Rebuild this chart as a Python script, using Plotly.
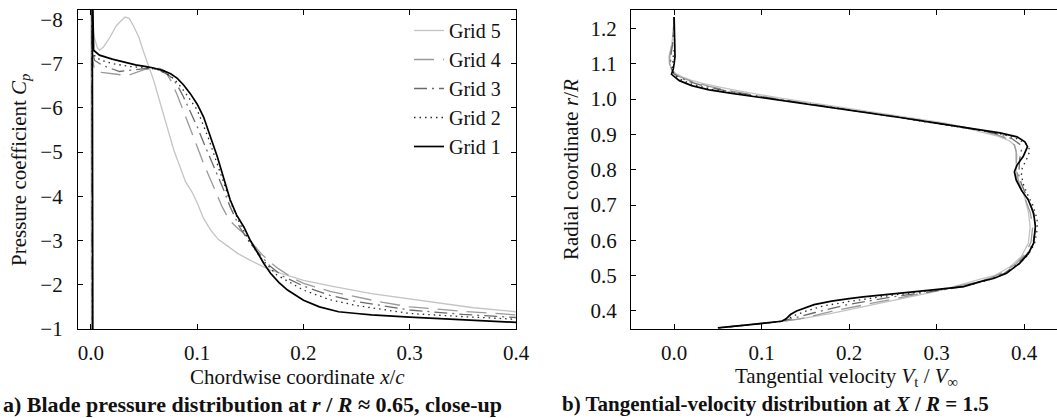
import plotly.graph_objects as go

# ---------------- data ----------------
grid_names = ["Grid 5", "Grid 4", "Grid 3", "Grid 2", "Grid 1"]

# Panel a: (x/c, Cp) pairs
cp_grid5 = [(0.0005, 0.5), (0.0, -9.0), (0.0005, -8.15), (0.001, -7.95), (0.003, -7.6), (0.006, -7.36),
            (0.008, -7.3), (0.012, -7.38), (0.018, -7.6), (0.024, -7.86), (0.032, -8.05), (0.036, -8.02),
            (0.040, -7.85), (0.045, -7.6), (0.049, -7.3), (0.059, -6.62), (0.068, -5.88), (0.078, -5.04),
            (0.089, -4.33), (0.095, -4.1), (0.1, -3.85), (0.106, -3.5), (0.1125, -3.24), (0.12, -3.02),
            (0.13, -2.85), (0.138, -2.71), (0.15, -2.55), (0.169, -2.33), (0.2, -2.1), (0.23, -1.95),
            (0.264, -1.8), (0.3, -1.68), (0.327, -1.58), (0.36, -1.48), (0.4, -1.39)]
cp_grid4 = [(0.0008, 0.5), (0.0005, -9.0), (0.0015, -7.1), (0.0035, -6.85), (0.01, -6.8), (0.021, -6.77),
            (0.03, -6.74), (0.037, -6.75), (0.043, -6.8), (0.05, -6.86), (0.056, -6.89), (0.065, -6.89),
            (0.07, -6.82), (0.075, -6.62), (0.081, -6.3), (0.087, -5.94), (0.094, -5.5), (0.1, -5.12),
            (0.106, -4.74), (0.1125, -4.36), (0.118, -4.05), (0.1235, -3.76), (0.13, -3.47), (0.137, -3.3),
            (0.144, -3.16), (0.152, -2.93), (0.16, -2.71), (0.168, -2.52), (0.176, -2.37), (0.19, -2.15),
            (0.2, -2.03), (0.225, -1.85), (0.25, -1.72), (0.275, -1.6), (0.3, -1.5), (0.35, -1.4), (0.4, -1.32)]
cp_grid3 = [(0.0012, 0.5), (0.0008, -9.0), (0.002, -7.2), (0.0035, -7.07), (0.008, -7.0), (0.015, -6.92),
            (0.027, -6.82), (0.04, -6.85), (0.052, -6.89), (0.062, -6.87), (0.07, -6.78), (0.075, -6.7),
            (0.081, -6.52), (0.087, -6.25), (0.094, -5.9), (0.1, -5.57), (0.108, -5.1), (0.116, -4.66),
            (0.124, -4.2), (0.131, -3.76), (0.14, -3.3), (0.15, -2.93), (0.16, -2.65), (0.169, -2.41),
            (0.18, -2.2), (0.2, -1.97), (0.225, -1.76), (0.25, -1.62), (0.3, -1.43), (0.35, -1.33), (0.4, -1.26)]
cp_grid2 = [(0.0015, 0.5), (0.001, -9.0), (0.0025, -7.25), (0.004, -7.15), (0.01, -7.07), (0.02, -7.0),
            (0.037, -6.93), (0.055, -6.9), (0.065, -6.85), (0.075, -6.72), (0.082, -6.55), (0.09, -6.3),
            (0.1, -5.95), (0.11, -5.35), (0.12, -4.65), (0.13, -3.95), (0.14, -3.38), (0.15, -2.95),
            (0.16, -2.6), (0.175, -2.22), (0.2, -1.88), (0.225, -1.66), (0.25, -1.53), (0.3, -1.35),
            (0.35, -1.28), (0.4, -1.22)]
cp_grid1 = [(0.0018, 0.5), (0.0012, -9.0), (0.0025, -7.3), (0.004, -7.27), (0.008, -7.19), (0.02, -7.1),
            (0.03, -7.04), (0.042, -6.97), (0.052, -6.93), (0.059, -6.9), (0.068, -6.84), (0.075, -6.77),
            (0.081, -6.67), (0.087, -6.52), (0.0935, -6.32), (0.1, -6.08), (0.106, -5.79), (0.112, -5.38),
            (0.119, -4.89), (0.125, -4.4), (0.131, -3.92), (0.137, -3.58), (0.144, -3.3), (0.15, -3.0),
            (0.157, -2.71), (0.163, -2.47), (0.169, -2.26), (0.177, -2.05), (0.185, -1.88), (0.2, -1.65),
            (0.215, -1.5), (0.233, -1.39), (0.25, -1.35), (0.264, -1.32), (0.3, -1.27), (0.327, -1.24),
            (0.36, -1.2), (0.4, -1.15)]

# Panel b: (Vt/Vinf, r/R) pairs
vt_grid5 = [(0.0, 1.232), (-0.001, 1.19), (-0.003, 1.15), (-0.006, 1.12), (-0.0055, 1.10), (-0.003, 1.085),
            (0.002, 1.072), (0.01, 1.062), (0.02, 1.053), (0.035, 1.043), (0.055, 1.032), (0.08, 1.02),
            (0.12, 1.003), (0.16, 0.988), (0.2, 0.974), (0.24, 0.96), (0.28, 0.945), (0.31, 0.932),
            (0.335, 0.918), (0.35, 0.907), (0.37, 0.895), (0.383, 0.882), (0.389, 0.87), (0.391, 0.855),
            (0.392, 0.837), (0.391, 0.815), (0.391, 0.794), (0.392, 0.772), (0.396, 0.752), (0.401, 0.72),
            (0.405, 0.68), (0.407, 0.639), (0.405, 0.592), (0.397, 0.554), (0.384, 0.525), (0.367, 0.501),
            (0.35, 0.49), (0.331, 0.476), (0.31, 0.462), (0.293, 0.452), (0.26, 0.435), (0.216, 0.411),
            (0.18, 0.393), (0.143, 0.377), (0.123, 0.371), (0.11, 0.367), (0.09, 0.362), (0.07, 0.357),
            (0.05, 0.352)]
vt_grid4 = [(0.0, 1.232), (-0.001, 1.19), (-0.003, 1.15), (-0.005, 1.12), (-0.005, 1.1), (-0.003, 1.085),
            (0.001, 1.071), (0.008, 1.061), (0.02, 1.05), (0.04, 1.036), (0.066, 1.022), (0.1, 1.007),
            (0.14, 0.992), (0.18, 0.977), (0.22, 0.963), (0.26, 0.948), (0.296, 0.935), (0.33, 0.921),
            (0.35, 0.911), (0.368, 0.9), (0.382, 0.886), (0.389, 0.87), (0.391, 0.85), (0.391, 0.825),
            (0.392, 0.8), (0.393, 0.775), (0.396, 0.75), (0.401, 0.72), (0.407, 0.68), (0.41, 0.64),
            (0.408, 0.595), (0.401, 0.56), (0.39, 0.532), (0.375, 0.508), (0.36, 0.492), (0.34, 0.478),
            (0.3, 0.458), (0.25, 0.433), (0.2, 0.41), (0.18, 0.399), (0.16, 0.387), (0.14, 0.376),
            (0.123, 0.37), (0.11, 0.367), (0.09, 0.362), (0.07, 0.357), (0.05, 0.352)]
vt_grid3 = [(0.0, 1.232), (-0.0005, 1.19), (-0.002, 1.15), (-0.004, 1.12), (-0.004, 1.1), (-0.003, 1.085),
            (0.0, 1.071), (0.007, 1.06), (0.02, 1.047), (0.04, 1.033), (0.066, 1.02), (0.1, 1.006),
            (0.14, 0.991), (0.18, 0.977), (0.22, 0.963), (0.26, 0.948), (0.296, 0.934), (0.33, 0.92),
            (0.35, 0.911), (0.37, 0.901), (0.386, 0.888), (0.395, 0.872), (0.397, 0.855), (0.395, 0.83),
            (0.394, 0.805), (0.394, 0.785), (0.397, 0.76), (0.402, 0.73), (0.408, 0.7), (0.412, 0.66),
            (0.413, 0.63), (0.41, 0.59), (0.403, 0.56), (0.392, 0.532), (0.377, 0.506), (0.36, 0.49),
            (0.343, 0.478), (0.33, 0.469), (0.3, 0.457), (0.25, 0.44), (0.2, 0.419), (0.18, 0.408),
            (0.16, 0.395), (0.14, 0.382), (0.123, 0.371), (0.11, 0.367), (0.09, 0.362), (0.07, 0.357),
            (0.05, 0.352)]
vt_grid2 = [(0.0, 1.232), (0.0005, 1.19), (0.0005, 1.15), (-0.001, 1.12), (-0.002, 1.1), (-0.002, 1.085),
            (0.0, 1.07), (0.005, 1.058), (0.02, 1.042), (0.04, 1.029), (0.066, 1.018), (0.1, 1.005),
            (0.14, 0.99), (0.18, 0.976), (0.22, 0.962), (0.26, 0.947), (0.296, 0.933), (0.33, 0.919),
            (0.35, 0.911), (0.372, 0.902), (0.39, 0.89), (0.402, 0.874), (0.407, 0.855), (0.403, 0.83),
            (0.398, 0.805), (0.397, 0.785), (0.399, 0.76), (0.404, 0.73), (0.41, 0.7), (0.415, 0.66),
            (0.415, 0.63), (0.412, 0.59), (0.405, 0.56), (0.394, 0.532), (0.378, 0.505), (0.362, 0.49),
            (0.345, 0.478), (0.33, 0.469), (0.3, 0.459), (0.25, 0.445), (0.2, 0.427), (0.17, 0.414),
            (0.15, 0.399), (0.14, 0.39), (0.13, 0.378), (0.123, 0.371), (0.11, 0.367), (0.09, 0.362),
            (0.07, 0.357), (0.05, 0.352)]
vt_grid1 = [(0.0, 1.232), (0.0005, 1.2), (0.001, 1.15), (0.001, 1.12), (0.0, 1.1), (-0.001, 1.085),
            (-0.003, 1.07), (0.001, 1.062), (0.006, 1.052), (0.02, 1.038), (0.04, 1.026), (0.066, 1.016),
            (0.1, 1.004), (0.14, 0.99), (0.18, 0.976), (0.22, 0.962), (0.26, 0.947), (0.296, 0.933),
            (0.33, 0.92), (0.35, 0.912), (0.3726, 0.904), (0.392, 0.893), (0.401, 0.879), (0.404, 0.865),
            (0.399, 0.837), (0.392, 0.813), (0.389, 0.794), (0.391, 0.771), (0.397, 0.742), (0.405, 0.714),
            (0.411, 0.677), (0.413, 0.639), (0.411, 0.592), (0.405, 0.563), (0.395, 0.535), (0.38, 0.507),
            (0.365, 0.492), (0.35, 0.483), (0.331, 0.469), (0.293, 0.459), (0.25, 0.449), (0.216, 0.44),
            (0.2, 0.435), (0.18, 0.428), (0.16, 0.418), (0.15, 0.41), (0.14, 0.4), (0.133, 0.39),
            (0.128, 0.378), (0.123, 0.371), (0.11, 0.367), (0.09, 0.362), (0.07, 0.357), (0.05, 0.352)]

cp_ticks = [-8, -7, -6, -5, -4, -3, -2, -1]
cp_ticktext = ["\u22128", "\u22127", "\u22126", "\u22125", "\u22124", "\u22123", "\u22122", "\u22121"]
xc_ticks = [0.0, 0.1, 0.2, 0.3, 0.4]
xc_ticktext = ["0.0", "0.1", "0.2", "0.3", "0.4"]
vt_ticks = [0.0, 0.1, 0.2, 0.3, 0.4]
vt_ticktext = ["0.0", "0.1", "0.2", "0.3", "0.4"]
r_ticks = [0.4, 0.5, 0.6, 0.7, 0.8, 0.9, 1.0, 1.1, 1.2]
r_ticktext = ["0.4", "0.5", "0.6", "0.7", "0.8", "0.9", "1.0", "1.1", "1.2"]

# ---------------- styles ----------------
styles = {
    "Grid 5": dict(color="#c4c4c4", width=1.3, dash="solid"),
    "Grid 4": dict(color="#9a9a9a", width=1.3, dash="20px,9px"),
    "Grid 3": dict(color="#6a6a6a", width=1.3, dash="13px,5px,2px,5px"),
    "Grid 2": dict(color="#2a2a2a", width=1.3, dash="1.5px,4px"),
    "Grid 1": dict(color="#000000", width=1.7, dash="solid"),
}
FONT = "Liberation Serif, Times New Roman, serif"
W, H = 1057, 418
ML, MR, MT, MB = 0, 0, 10, 89
plot_h = H - MT - MB

def px_x(px):
    return px / W

def px_y(py):
    return (H - MB - py) / plot_h

fig = go.Figure()
cp_series = [cp_grid5, cp_grid4, cp_grid3, cp_grid2, cp_grid1]
vt_series = [vt_grid5, vt_grid4, vt_grid3, vt_grid2, vt_grid1]
for name, cps in zip(grid_names, cp_series):
    xs, ys = zip(*cps)
    fig.add_trace(go.Scatter(x=list(xs), y=list(ys), mode="lines", name=name,
                             line=styles[name], xaxis="x", yaxis="y", showlegend=True))
for name, vts in zip(grid_names, vt_series):
    xs, ys = zip(*vts)
    fig.add_trace(go.Scatter(x=list(xs), y=list(ys), mode="lines", name=name,
                             line=styles[name], xaxis="x2", yaxis="y2", showlegend=False))

tickfont = dict(family=FONT, size=21, color="#111")
axis_common = dict(showline=True, linecolor="black", linewidth=1.2, ticks="inside", ticklen=5,
                   tickwidth=1.2, tickcolor="black", showgrid=False, zeroline=False,
                   tickfont=tickfont)

fig.update_layout(
    width=W, height=H, margin=dict(l=ML, r=MR, t=MT, b=MB),
    paper_bgcolor="white", plot_bgcolor="white",
    template="none",
    font=dict(family=FONT, size=20, color="#111"),
    xaxis=dict(domain=[px_x(78), px_x(516)], range=[-0.0122, 0.4], tickvals=xc_ticks,
               ticktext=xc_ticktext, mirror="ticks", anchor="y", ticklabelstandoff=5, **axis_common),
    yaxis=dict(domain=[0, 1], range=[-1, -8.21], tickvals=cp_ticks, ticktext=cp_ticktext,
               mirror="ticks", anchor="x", ticklabelstandoff=10, **axis_common),
    xaxis2=dict(domain=[px_x(631), 1.0], range=[-0.0493, 0.4377], tickvals=vt_ticks,
                ticktext=vt_ticktext, mirror="ticks", anchor="y2", ticklabelstandoff=5, **axis_common),
    yaxis2=dict(domain=[0, 1], range=[0.349, 1.252], tickvals=r_ticks, ticktext=r_ticktext,
                mirror=False, anchor="x2", ticklabelstandoff=9, **axis_common),
    legend=dict(x=px_x(409), y=px_y(11), xanchor="left", yanchor="top",
                bgcolor="rgba(0,0,0,0)", borderwidth=0,
                font=dict(family=FONT, size=20, color="#111"), tracegroupgap=0),
    showlegend=True,
)

ann_font = dict(family=FONT, size=21, color="#111")
annotations = [
    dict(text="Chordwise coordinate <i>x</i>/<i>c</i>", x=px_x(297), y=px_y(377),
         xanchor="center", yanchor="middle", font=ann_font),
    dict(text="Pressure coefficient <i>C</i><sub><i>p</i></sub>", x=px_x(20), y=px_y(170),
         xanchor="center", yanchor="middle", textangle=-90, font=ann_font),
    dict(text="Tangential velocity <i>V</i><sub>t</sub> / <i>V</i><sub>\u221e</sub>", x=px_x(846), y=px_y(377),
         xanchor="center", yanchor="middle", font=ann_font),
    dict(text="Radial coordinate <i>r</i>/<i>R</i>", x=px_x(571), y=px_y(170),
         xanchor="center", yanchor="middle", textangle=-90, font=ann_font),
    dict(text="<b>a) Blade pressure distribution at <i>r</i> / <i>R</i> \u2248 0.65, close-up</b>",
         x=px_x(1), y=px_y(404), xanchor="left", yanchor="middle",
         font=dict(family=FONT, size=22, color="#111")),
    dict(text="<b>b) Tangential-velocity distribution at <i>X</i> / <i>R</i> = 1.5</b>",
         x=px_x(560), y=px_y(404), xanchor="left", yanchor="middle",
         font=dict(family=FONT, size=21, color="#111")),
]
for a in annotations:
    a.update(xref="paper", yref="paper", showarrow=False)
fig.update_layout(annotations=annotations)

fig.write_html("out.html")
